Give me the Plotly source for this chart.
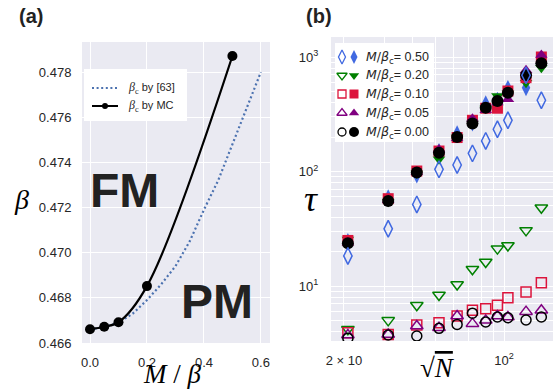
import plotly.graph_objects as go

# ---------------- Panel (a) data ----------------
m_ref = [0.0, 0.05, 0.1, 0.15, 0.2, 0.25, 0.3, 0.35, 0.4, 0.45, 0.5, 0.55, 0.6]
beta_ref = [0.46661, 0.4667, 0.4669, 0.4673, 0.4679, 0.4686, 0.4694, 0.4705, 0.4719, 0.4732, 0.4748, 0.4764, 0.4780]
m_mc = [0.0, 0.05, 0.1, 0.2, 0.5]
beta_mc = [0.46661, 0.46672, 0.46692, 0.46852, 0.47871]
a_xticks = [0.0, 0.2, 0.4, 0.6]
a_yticks = [0.466, 0.468, 0.470, 0.472, 0.474, 0.476, 0.478]

# ---------------- Panel (b) data ----------------
sqrtN = [20.8, 31.2, 41.6, 52.0, 62.4, 72.8, 83.2, 93.6, 104.0, 124.8, 145.6]
labels = ["0.50", "0.20", "0.10", "0.05", "0.00"]
colors = ["#4169E1", "#008000", "#DC143C", "#800080", "#000000"]
tau_filled_050 = [24.5, 59, 93, 150, 214, 265, 391, 420, 533, 539, 870]
tau_filled_020 = [25.5, 54.5, 96, 128, 198, 262, 355, 456, 480, 597, 807]
tau_filled_010 = [25.0, 57.9, 101, 151, 198, 280, 357, 357, 505, 660, 1000]
tau_filled_005 = [24.0, 56, 99, 156, 195, 289, 342, 400, 427, 765, 1040]
tau_filled_000 = [23.6, 55.2, 97.8, 146, 200, 262, 361, 413, 488, 692, 881]
tau_open_050 = [18.3, 31.6, 51.6, 104.5, 114, 144, 185, 234, 280, 692, 419]
tau_open_020 = [4.19, 5.01, 6.78, 8.34, 10.3, 14.0, 16.2, 21.2, 22.6, 30.6, 48.3]
tau_open_010 = [3.91, 3.78, 4.56, 4.78, 5.47, 6.14, 6.34, 6.78, 7.90, 8.87, 10.7]
tau_open_005 = [3.73, 3.78, 4.48, 4.33, 5.47, 4.69, 5.01, 5.47, 5.36, 5.97, 6.14]
tau_open_000 = [3.49, 3.73, 3.66, 4.27, 4.62, 5.79, 4.85, 5.36, 5.28, 5.05, 5.36]
b_xticks = [20, 30, 40, 50, 60, 70, 80, 90, 100]
b_xtext = ["2 × 10", "", "", "", "", "", "", "", "10<sup>2</sup>"]
b_yticks = [4, 5, 6, 7, 8, 9, 10, 20, 30, 40, 50, 60, 70, 80, 90, 100,
            200, 300, 400, 500, 600, 700, 800, 900, 1000]
b_ytext = ["" for _ in b_yticks]
b_ytext[b_yticks.index(10)] = "10<sup>1</sup>"
b_ytext[b_yticks.index(100)] = "10<sup>2</sup>"
b_ytext[b_yticks.index(1000)] = "10<sup>3</sup>"

filled = [tau_filled_050, tau_filled_020, tau_filled_010, tau_filled_005, tau_filled_000]
opened = [tau_open_050, tau_open_020, tau_open_010, tau_open_005, tau_open_000]
sym_filled = ["diamond-tall", "triangle-down", "square", "triangle-up", "circle"]
sym_open = ["diamond-tall-open", "triangle-down-open", "square-open", "triangle-up-open", "circle-open"]
size_filled = [12, 11, 11, 11, 12]
size_open = [12, 11, 10, 11, 10]

W, H = 555, 390
BG = "#EAEAF2"
TXT = "#262626"
TICKFONT = dict(family="Liberation Sans, Arial, sans-serif", size=13, color=TXT)
MATH = "Liberation Serif, Times New Roman, serif"
SANS = "Liberation Sans, Arial, sans-serif"

fig = go.Figure()

# ---- panel (a) traces ----
fig.add_trace(go.Scatter(x=m_ref, y=beta_ref, mode="lines", xaxis="x", yaxis="y",
                         line=dict(color="#4C72B0", width=2.2, dash="2px,2.6px"),
                         showlegend=False))
fig.add_trace(go.Scatter(x=m_mc, y=beta_mc, mode="lines+markers", xaxis="x", yaxis="y",
                         line=dict(color="black", width=2.2, shape="spline", smoothing=1.0),
                         marker=dict(color="black", size=10), showlegend=False,
                         cliponaxis=False))

# ---- panel (b) traces: filled first, then open ----
for i in range(5):
    fig.add_trace(go.Scatter(x=sqrtN, y=filled[i], mode="markers", xaxis="x2", yaxis="y2",
                             marker=dict(symbol=sym_filled[i], color=colors[i], size=size_filled[i],
                                         line=dict(width=0)),
                             showlegend=False))
for i in range(5):
    fig.add_trace(go.Scatter(x=sqrtN, y=opened[i], mode="markers", xaxis="x2", yaxis="y2",
                             marker=dict(symbol=sym_open[i], color=colors[i], size=size_open[i],
                                         line=dict(width=1.5, color=colors[i])),
                             showlegend=False))

# ---- legend keys on a pixel overlay axis ----
rows_b = [57, 75.5, 94, 113, 132]
for i in range(5):
    fig.add_trace(go.Scatter(x=[342], y=[rows_b[i]], mode="markers", xaxis="x3", yaxis="y3",
                             marker=dict(symbol=sym_open[i], color=colors[i], size=size_open[i] - 2,
                                         line=dict(width=1.3, color=colors[i])),
                             showlegend=False, cliponaxis=False, hoverinfo="skip"))
    fig.add_trace(go.Scatter(x=[354], y=[rows_b[i]], mode="markers", xaxis="x3", yaxis="y3",
                             marker=dict(symbol=sym_filled[i], color=colors[i], size=size_filled[i] - 2,
                                         line=dict(width=0)),
                             showlegend=False, cliponaxis=False, hoverinfo="skip"))
rows_a = [88, 106]
fig.add_trace(go.Scatter(x=[92, 118], y=[rows_a[0]] * 2, mode="lines", xaxis="x3", yaxis="y3",
                         line=dict(color="#4C72B0", width=2, dash="2px,2.6px"),
                         showlegend=False, cliponaxis=False, hoverinfo="skip"))
fig.add_trace(go.Scatter(x=[92, 105, 118], y=[rows_a[1]] * 3, mode="lines", xaxis="x3", yaxis="y3",
                         line=dict(color="black", width=2),
                         showlegend=False, cliponaxis=False, hoverinfo="skip"))
fig.add_trace(go.Scatter(x=[105], y=[rows_a[1]], mode="markers", xaxis="x3", yaxis="y3",
                         marker=dict(color="black", size=6),
                         showlegend=False, cliponaxis=False, hoverinfo="skip"))

def px(x0, x1):
    return [x0 / W, x1 / W]

def py(y0, y1):
    return [1 - y1 / H, 1 - y0 / H]

axis_common = dict(showgrid=True, gridcolor="white", gridwidth=1.2, zeroline=False,
                   showline=False, ticks="outside", tickcolor="rgba(0,0,0,0)",
                   tickfont=TICKFONT, automargin=False)

fig.update_layout(
    width=W, height=H, margin=dict(l=0, r=0, t=0, b=0, pad=0, autoexpand=False),
    paper_bgcolor="white", plot_bgcolor="rgba(0,0,0,0)",
    showlegend=False,
    xaxis=dict(domain=px(82, 270), range=[-0.0281, 0.632], anchor="y",
               tickvals=a_xticks, ticktext=["0.0", "0.2", "0.4", "0.6"], ticklen=7, **axis_common),
    yaxis=dict(domain=py(42, 343), range=[0.466, 0.47933], anchor="x",
               tickvals=a_yticks, ticktext=["%.3f" % v for v in a_yticks], ticklen=7, **axis_common),
    xaxis2=dict(domain=px(331, 553), type="log", range=[1.2443, 2.2140], anchor="y2",
                tickvals=b_xticks, ticktext=b_xtext, ticklen=7, **axis_common),
    yaxis2=dict(domain=py(37, 341), type="log", range=[0.5197, 3.1747], anchor="x2",
                tickvals=b_yticks, ticktext=b_ytext, ticklen=9, **axis_common),
    xaxis3=dict(domain=[0, 1], range=[0, W], anchor="y3", visible=False, showgrid=False,
                automargin=False),
    yaxis3=dict(domain=[0, 1], range=[H, 0], anchor="x3", visible=False, showgrid=False,
                automargin=False),
)

# backgrounds and legend boxes
fig.add_shape(type="rect", xref="x domain", yref="y domain", x0=0, x1=1, y0=0, y1=1,
              fillcolor=BG, line=dict(width=0), layer="below")
fig.add_shape(type="rect", xref="x2 domain", yref="y2 domain", x0=0, x1=1, y0=0, y1=1,
              fillcolor=BG, line=dict(width=0), layer="below")
fig.add_shape(type="rect", xref="x3", yref="y3", x0=84, x1=187, y0=69, y1=121,
              fillcolor="white", line=dict(width=0), layer="below")
fig.add_shape(type="rect", xref="x3", yref="y3", x0=335, x1=434, y0=43, y1=142,
              fillcolor="white", line=dict(width=0), layer="below")

def ann(text, x, y, size, family, color="black", xanchor="center", yanchor="middle"):
    fig.add_annotation(text=text, x=x / W, y=1 - y / H, xref="paper", yref="paper",
                       showarrow=False, xanchor=xanchor, yanchor=yanchor,
                       font=dict(size=size, family=family, color=color))

ann("<b>(a)</b>", 31, 16, 20, SANS, color="#222222")
ann("<b>(b)</b>", 319, 16, 20, SANS, color="#222222")
ann("<b>FM</b>", 124, 190, 48, SANS, color="#222222")
ann("<b>PM</b>", 217, 301, 48, SANS, color="#222222")
ann("<i>β</i>", 21, 199, 28, MATH)
ann("<i>M</i> / <i>β</i>", 172, 374, 27, MATH)
ann("<i>τ</i>", 311, 199, 36, MATH)
ann("√<span style='text-decoration:overline'><i>N</i></span>", 437, 368, 27, MATH)

# legend texts
by_font = "font-family:Liberation Sans;font-size:11px"
ann("<i>β</i><sub>c</sub> <span style='" + by_font + "'>by [63]</span>", 126, rows_a[0], 12, MATH,
    color=TXT, xanchor="left")
ann("<i>β</i><sub>c</sub> <span style='" + by_font + "'>by MC</span>", 126, rows_a[1], 12, MATH,
    color=TXT, xanchor="left")
for i in range(5):
    ann("<span style='font-family:DejaVu Sans'><i>M</i>/<i>β</i><sub>c</sub></span>= " + labels[i],
        364, rows_b[i], 12.5, SANS, color=TXT, xanchor="left")

fig.write_html("out.html", config={"displayModeBar": False},
               post_script="document.body.style.margin='0';document.body.style.padding='0';"
                           "document.documentElement.style.overflow='hidden';")
